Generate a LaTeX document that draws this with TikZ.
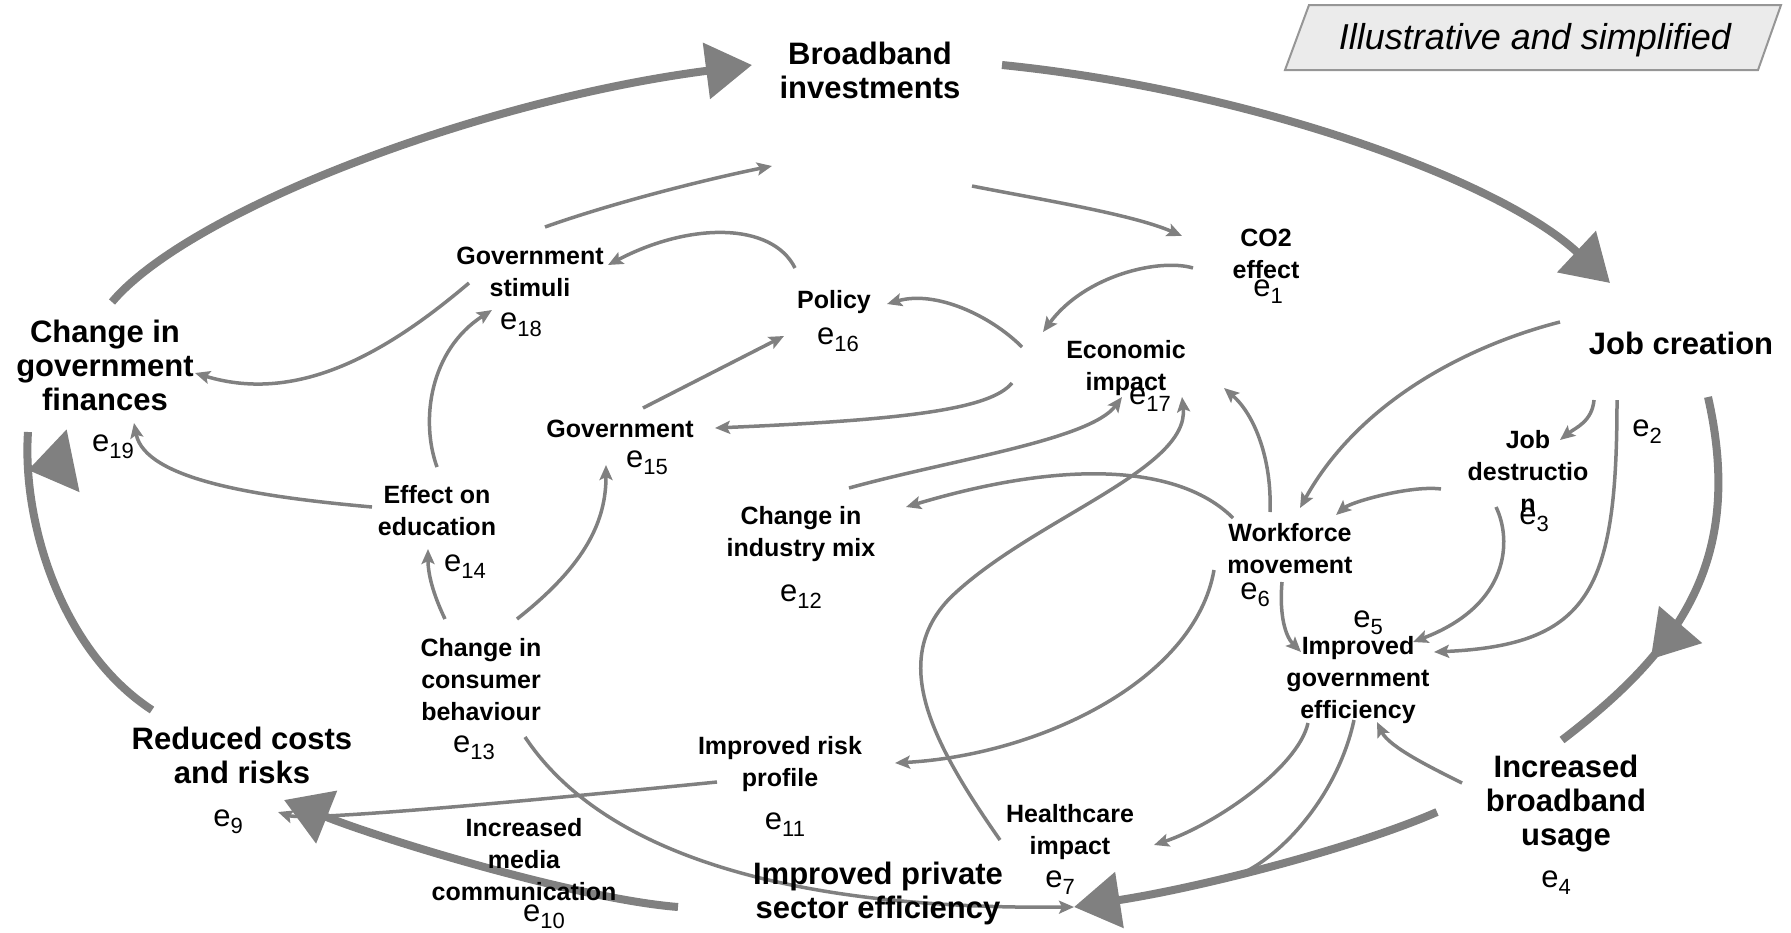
\documentclass[tikz,border=0pt]{standalone}
\usepackage{fontspec}
\setmainfont{Liberation Sans}
\usetikzlibrary{arrows.meta,calc,decorations.markings,backgrounds}

\definecolor{linkgray}{RGB}{128,128,128}
\definecolor{boxfill}{RGB}{235,235,235}
\definecolor{boxline}{RGB}{150,150,150}

\newcommand{\elab}[1]{e\raisebox{-7pt}{\fontsize{22}{22}\selectfont #1}}

\begin{document}
\begin{tikzpicture}[x=1pt,y=-1pt,
    bignode/.style={font=\bfseries\fontsize{31}{34}\selectfont, align=center, inner sep=2pt},
    midnode/.style={font=\bfseries\fontsize{25}{32}\selectfont, align=center, inner sep=2pt},
    elabel/.style={font=\fontsize{31}{31}\selectfont, inner sep=1pt},
    link/.style={draw=linkgray, line width=3.5pt, -{Stealth[length=15pt,width=13pt,inset=3pt]}},
    ring/.style={draw=linkgray, line width=8pt, -{Triangle[length=46pt,width=55pt]}},
    midtip/.style={draw=linkgray, line width=8pt, postaction={decorate, decoration={markings,
        mark=at position #1 with {\arrow[linkgray]{Triangle[length=46pt,width=55pt]}}}}}]

    \useasboundingbox (0,0) rectangle (1791,932);

    % main loop
    \node[bignode] (bb) at (870,70) {Broadband\\investments};
    \node[bignode] (jc) at (1681,343) {Job creation};
    \node[bignode] (ibu) at (1566,804) {Increased\\broadband\\usage};
    \node[bignode] (ipse) at (878,893) {Improved private\\sector efficiency};
    \node[bignode] (rcr) at (242,755) {Reduced costs\\and risks};
    \node[bignode] (cgf) at (105,365) {Change in\\government\\finances};

    % inner effects
    \node[midnode] (co2) at (1266,254) {CO2\\effect};
    \node[midnode] (jd) at (1528,471) {Job\\destructio\\n};
    \node[midnode] (pol) at (834,302) {Policy};
    \node[midnode] (gs) at (530,272) {Government\\stimuli};
    \node[midnode] (ei) at (1126,368) {Economic\\impact};
    \node[midnode] (gov) at (620,429) {Government};
    \node[midnode] (eoe) at (437,511) {Effect on\\education};
    \node[midnode] (cim) at (801,534) {Change in\\industry mix};
    \node[midnode] (wm) at (1290,549) {Workforce\\movement};
    \node[midnode] (ige) at (1358,680) {Improved\\government\\efficiency};
    \node[midnode] (ccb) at (481,680) {Change in\\consumer\\behaviour};
    \node[midnode] (irp) at (780,764) {Improved risk\\profile};
    \node[midnode] (hi) at (1070,832) {Healthcare\\impact};
    \node[midnode] (imc) at (524,860) {Increased\\media\\communication};

    % error terms
    \node[elabel] (e1) at (1268,292) {\elab{1}};
    \node[elabel] (e2) at (1647,432) {\elab{2}};
    \node[elabel] (e3) at (1534,520) {\elab{3}};
    \node[elabel] (e4) at (1556,883) {\elab{4}};
    \node[elabel] (e5) at (1368,623) {\elab{5}};
    \node[elabel] (e6) at (1255,595) {\elab{6}};
    \node[elabel] (e7) at (1060,883) {\elab{7}};
    \node[elabel] (e9) at (228,822) {\elab{9}};
    \node[elabel] (e10) at (544,917) {\elab{10}};
    \node[elabel] (e11) at (785,825) {\elab{11}};
    \node[elabel] (e12) at (801,597) {\elab{12}};
    \node[elabel] (e13) at (474,748) {\elab{13}};
    \node[elabel] (e14) at (465,567) {\elab{14}};
    \node[elabel] (e15) at (647,463) {\elab{15}};
    \node[elabel] (e16) at (838,340) {\elab{16}};
    \node[elabel] (e17) at (1150,400) {\elab{17}};
    \node[elabel] (e18) at (521,325) {\elab{18}};
    \node[elabel] (e19) at (113,447) {\elab{19}};

    % label box
    \node[font=\itshape\fontsize{36}{36}\selectfont, inner sep=0pt] (illus) at (1535,40) {Illustrative and simplified};

    \begin{scope}[on background layer]
        \draw[draw=boxline, fill=boxfill, line width=2pt]
            ($(illus)+(-226,-35)$) -- ($(illus)+(246,-35)$) -- ($(illus)+(223,30)$) -- ($(illus)+(-250,30)$) -- cycle;

        % thin links
        \draw[link] ($(gs)+(15,-45)$) .. controls +(70,-25) and +(-60,12) .. ($(bb)+(-98,96)$);
        \draw[link] ($(bb)+(102,116)$) .. controls +(60,12) and +(-50,-22) .. ($(co2)+(-84,-18)$);
        \draw[link] ($(co2)+(-73,14)$) .. controls +(-33,-10) and +(42,-57) .. ($(ei)+(-83,-36)$);
        \draw[link] ($(ei)+(-104,-21)$) .. controls +(-32,-32) and +(48,-14) .. ($(pol)+(53,2)$);
        \draw[link] ($(pol)+(-39,-34)$) .. controls +(-23,-46) and +(82,-43) .. ($(gs)+(78,-7)$);
        \draw[link] ($(gs)+(-61,11)$) .. controls +(-79,67) and +(105,32) .. ($(cgf)+(90,8)$);
        \draw[link] ($(ei)+(-114,15)$) .. controls +(-22,27) and +(185,-8) .. ($(gov)+(95,-1)$);
        \draw[link] ($(gov)+(23,-21)$) -- ($(pol)+(-50,34)$);
        \draw[link] ($(eoe)+(0,-44)$) .. controls +(-17,-47) and +(-62,40) .. ($(gs)+(-38,38)$);
        \draw[link] ($(eoe)+(-65,-4)$) .. controls +(-112,-10) and +(11,57) .. ($(cgf)+(29,58)$);
        \draw[link] ($(ccb)+(-36,-61)$) .. controls +(-12,-25) and +(0,25) .. ($(eoe)+(-9,38)$);
        \draw[link] ($(ccb)+(36,-61)$) .. controls +(70,-55) and +(0,55) .. ($(gov)+(-14,36)$);
        \draw[link] ($(cim)+(48,-46)$) .. controls +(101,-28) and +(-32,43) .. ($(ei)+(-4,29)$);
        \draw[link] ($(wm)+(-57,-31)$) .. controls +(-48,-48) and +(174,-52) .. ($(cim)+(105,-27)$);
        \draw[link] ($(hi)+(-70,8)$) .. controls +(-70,-100) and +(-60,62) .. ($(hi)+(-120,-234)$)
            .. controls +(80,-78) and +(8,73) .. ($(ei)+(56,29)$);
        \draw[link] ($(wm)+(-20,-37)$) .. controls +(2,-52) and +(31,27) .. ($(ei)+(98,20)$);
        \draw[link] ($(jc)+(-121,-21)$) .. controls +(-90,23) and +(60,-108) .. ($(wm)+(10,-41)$);
        \draw[link] ($(jc)+(-87,57)$) .. controls +(-2,22) and +(15,-12) .. ($(jd)+(32,-31)$);
        \draw[link] ($(jd)+(-87,18)$) .. controls +(-30,-4) and +(15,-13) .. ($(wm)+(46,-34)$);
        \draw[link] ($(jd)+(-32,36)$) .. controls +(16,33) and +(97,-37) .. ($(ige)+(55,-38)$);
        \draw[link] ($(jc)+(-64,57)$) .. controls +(0,190) and +(156,-7) .. ($(ige)+(76,-28)$);
        \draw[link] ($(wm)+(-8,33)$) .. controls +(-3,35) and +(-15,-15) .. ($(ige)+(-57,-28)$);
        \draw[link] ($(wm)+(-76,21)$) .. controls +(-19,110) and +(145,-8) .. ($(irp)+(115,-1)$);
        \draw[link] ($(irp)+(-63,18)$) .. controls +(-150,15) and +(30,10) .. ($(rcr)+(36,57)$);
        \draw[link] ($(ccb)+(44,57)$) .. controls +(75,113) and +(-294,3) .. ($(ipse)+(196,14)$);
        \draw[link] ($(ige)+(-50,43)$) .. controls +(-10,45) and +(60,-20) .. ($(hi)+(84,13)$);
        \draw[link, -] ($(ige)+(-4,40)$) .. controls +(-15,70) and +(45,-22) .. ($(ipse)+(365,-20)$);
        \draw[link] ($(ibu)+(-104,-21)$) .. controls +(-30,-15) and +(12,25) .. ($(ige)+(19,42)$);

        % thick loop
        \draw[ring] ($(cgf)+(7,-63)$) .. controls +(78,-92) and +(-272,35) .. ($(bb)+(-118,-5)$);
        \draw[ring] ($(bb)+(132,-5)$) .. controls +(248,25) and +(-110,-103) .. ($(jc)+(-71,-60)$);
        \draw[midtip=0.7] ($(jc)+(27,54)$) .. controls +(37,163) and +(118,-90) .. ($(ibu)+(-4,-64)$);
        \draw[ring] ($(ibu)+(-129,8)$) .. controls +(-80,35) and +(130,-20) .. ($(ipse)+(196,14)$);
        \draw[ring] ($(ipse)+(-200,14)$) .. controls +(-100,-8) and +(100,40) .. ($(rcr)+(42,45)$);
        \draw[draw=linkgray, line width=8pt, postaction={decorate, decoration={markings,
            mark=at position 0.88 with {\pgftransformrotate{98}\arrow[linkgray]{Triangle[length=46pt,width=62pt]}}}}]
            ($(rcr)+(-90,-45)$) .. controls +(-92,-60) and +(-6,88) .. ($(cgf)+(-77,67)$);
    \end{scope}
\end{tikzpicture}
\end{document}
